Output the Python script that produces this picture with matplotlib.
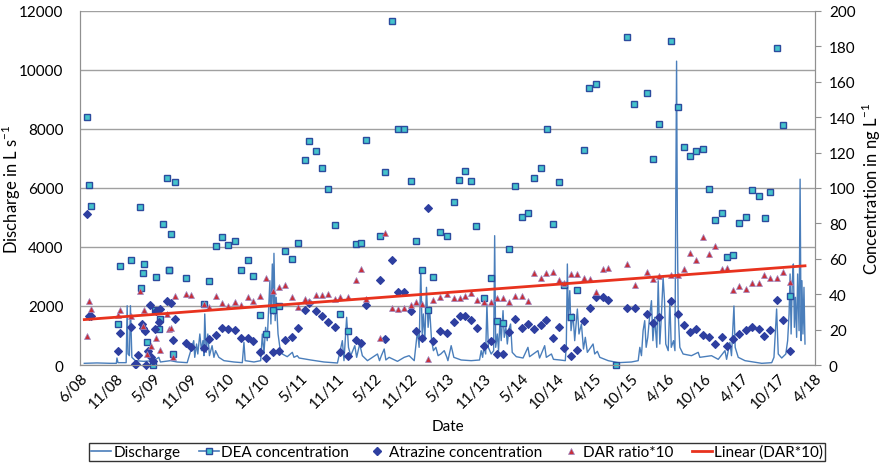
import numpy as np
import matplotlib
matplotlib.use("Agg")
import matplotlib.pyplot as plt
import matplotlib.dates as mdates
from matplotlib.lines import Line2D
from matplotlib.ticker import FuncFormatter

plt.rcParams['font.family'] = ['Lato', 'DejaVu Sans']
plt.rcParams['mathtext.fontset'] = 'custom'
plt.rcParams['mathtext.rm'] = 'Lato'

# all x values are days since 1 June 2008
START = np.datetime64('2008-06-01')

# discharge (L/s)
q_day = [21, 83, 149, 178, 181, 186, 226, 231, 235, 242, 247, 254, 271, 312, 361, 386, 394, 443, 476, 525,
         557, 562, 571, 577, 587, 595, 602, 607, 611, 618, 626, 634, 647, 656, 664, 680, 705, 754, 795, 803,
         809, 852, 885, 893, 901, 909, 917, 924, 930, 935, 942, 947, 950, 956, 961, 970, 979, 991, 1015, 1040,
         1048, 1064, 1073, 1130, 1195, 1261, 1285, 1293, 1306, 1315, 1326, 1346, 1355, 1370, 1383, 1408, 1457,
         1467, 1476, 1490, 1498, 1514, 1555, 1588, 1612, 1637, 1653, 1661, 1669, 1676, 1682, 1689, 1697, 1705,
         1712, 1722, 1731, 1743, 1754, 1767, 1784, 1797, 1802, 1818, 1831, 1867, 1916, 1957, 1965, 1972, 1978,
         1987, 1993, 2000, 2014, 2026, 2031, 2036, 2044, 2050, 2057, 2063, 2072, 2078, 2086, 2093, 2101, 2109,
         2117, 2137, 2170, 2194, 2202, 2243, 2251, 2276, 2284, 2309, 2319, 2350, 2377, 2382, 2387, 2392, 2399,
         2405, 2415, 2423, 2436, 2444, 2456, 2466, 2475, 2485, 2513, 2521, 2534, 2546, 2587, 2636, 2701, 2734,
         2742, 2750, 2758, 2766, 2773, 2781, 2791, 2799, 2806, 2815, 2825, 2832, 2840, 2848, 2856, 2863, 2869,
         2881, 2889, 2896, 2907, 2914, 2922, 2926, 2930, 2938, 2954, 2995, 3028, 3036, 3093, 3126, 3159, 3167,
         3183, 3191, 3203, 3209, 3224, 3257, 3339, 3388, 3399, 3412, 3420, 3437, 3457, 3466, 3473, 3478, 3483,
         3489, 3494, 3499, 3504, 3510, 3515, 3522, 3527, 3532, 3536, 3541, 3546, 3551]
q_val = [57, 70, 57, 57, 237, 79, 79, 2010, 373, 316, 2010, 260, 147, 124, 147, 260, 102, 147, 102, 79,
         825, 260, 712, 373, 1051, 486, 825, 316, 1729, 429, 1051, 316, 655, 260, 486, 260, 147, 102, 79, 768,
         147, 102, 147, 1051, 373, 1277, 825, 1955, 2858, 1390, 3424, 1729, 3786, 1503, 2294, 1051, 599, 373, 282, 429,
         260, 316, 237, 170, 102, 68, 825, 147, 1616, 599, 316, 655, 260, 712, 316, 147, 373,
         147, 316, 542, 170, 260, 124, 260, 316, 147, 1164, 599, 3254, 1051, 1729, 825, 2633, 1277,
         1955, 825, 486, 599, 316, 373, 486, 260, 147, 655, 260, 170, 147, 170, 486, 260, 599,
         373, 2068, 599, 373, 486, 4384, 599, 1051, 486, 1503, 825, 1842, 938, 1277, 712, 1220, 1390,
         429, 282, 237, 599, 282, 486, 237, 655, 260, 373, 192, 170, 147, 712, 3424, 1503, 2520,
         1164, 1729, 825, 1898, 1051, 1390, 542, 938, 429, 712, 373, 463, 260, 147, 79, 102, 147,
         599, 316, 1164, 1503, 599, 938, 1729, 2180, 825, 1616, 599, 2858, 712, 1729, 2972, 2180, 712,
         486, 2180, 599, 825, 486, 10300, 4550, 1729, 599, 373, 316, 429, 260, 316, 192, 486, 192,
         768, 316, 2000, 599, 260, 147, 57, 79, 260, 1898, 373, 237, 373, 825, 1729, 3085, 1051,
         2858, 3424, 1277, 2294, 938, 3085, 1164, 6300, 825, 2858, 1051, 2633, 712]

# DEA concentration (ng/L)
dea_day = [34, 44, 54, 188, 195, 252, 293, 301, 311, 314, 329, 358, 365, 373, 388, 391, 407, 427, 435, 438,
           448, 455, 463, 517, 607, 634, 665, 695, 727, 757, 787, 821, 849, 881, 911, 945, 976, 1002, 1036,
           1066, 1102, 1123, 1158, 1185, 1213, 1249, 1275, 1311, 1354, 1375, 1401, 1467, 1494, 1529, 1556,
           1586, 1620, 1647, 1677, 1705, 1731, 1761, 1798, 1830, 1857, 1887, 1914, 1942, 1978, 2012, 2042,
           2070, 2102, 2132, 2166, 2196, 2223, 2260, 2286, 2315, 2345, 2369, 2407, 2433, 2469, 2495, 2525,
           2624, 2680, 2714, 2776, 2806, 2834, 2896, 2927, 2959, 2987, 3018, 3049, 3079, 3108, 3143, 3170,
           3198, 3226, 3260, 3290, 3324, 3354, 3381, 3414, 3445, 3479]
dea_val = [140, 101.9, 90, 23, 56.1, 59.5, 89.4, 43.5, 52, 57.2, 12.8, 0, 31.2, 49.9, 20.3, 26, 79.5, 105.5, 53.5, 53.8,
           73.8, 6.2, 103.6, 49.2, 34.3, 47.6, 67.2, 72.5, 67.8, 70.2, 53.5, 59.3, 50.3, 28.4, 17.5, 31.2, 33.5, 64.4, 60.1,
           69.1, 115.8, 126.6, 120.7, 111.5, 99.3, 79.3, 28.8, 19.4, 68.4, 68.9, 127.1, 73, 109.2, 194.5, 133.3,
           133.1, 104, 69.9, 53.8, 31.2, 49.9, 75, 73, 91.9, 104.5, 109.8, 104, 78.4, 38, 49, 24.9,
           23.6, 65.7, 101.1, 83.8, 85.7, 105.6, 111.1, 133.1, 79.5, 103.2, 45.4, 27.3, 42.5, 121.5, 156.5, 158.6,
           0, 185.5, 147.6, 153.5, 116.6, 136.3, 182.9, 145.8, 123.3, 117.9, 120.9, 121.9, 99.4, 82.1, 85.7, 60.8,
           62.3, 80.4, 83.8, 99, 95.5, 83.2, 97.9, 179.1, 135.4, 38.8]

# atrazine concentration (ng/L)
atz_day = [34, 44, 54, 188, 195, 252, 268, 276, 286, 306, 311, 317, 325, 335, 345, 348, 358, 365, 371, 386,
           391, 427, 448, 455, 463, 517, 546, 607, 634, 665, 695, 727, 757, 787, 821, 849, 881, 911, 945, 976,
           1002, 1036, 1066, 1102, 1123, 1158, 1185, 1213, 1249, 1275, 1311, 1354, 1375, 1401, 1467, 1494, 1529,
           1556, 1586, 1620, 1647, 1677, 1705, 1731, 1761, 1798, 1830, 1859, 1885, 1914, 1944, 1978, 2012, 2042,
           2070, 2102, 2132, 2166, 2194, 2225, 2260, 2284, 2315, 2345, 2369, 2407, 2433, 2469, 2497, 2525, 2560,
           2588, 2680, 2716, 2778, 2806, 2835, 2895, 2927, 2959, 2987, 3018, 3051, 3079, 3110, 3144, 3170, 3198,
           3226, 3263, 3291, 3326, 3352, 3381, 3414, 3445, 3479]
atz_val = [85.1, 27.9, 27.9, 8.1, 18.1, 21.3, 0.6, 0.6, 5.5, 23.2, 21, 19, 0.2, 8.1, 34.1, 4.3, 2.4, 20.3, 30.7, 24.1,
           31.6, 36, 34.8, 14.1, 26, 12.2, 10, 9.8, 14.5, 17.1, 20.7, 20.3, 19.9, 15.4, 15.1, 13.7, 7.2, 3.8, 7.2, 7.7,
           14.3, 15.6, 20.7, 31.1, 35, 30.3, 27.9, 24.5, 21.3, 7.2, 4.9, 14.3, 12.6, 33.9, 47.8, 14.7, 59.5,
           41.4, 41.1, 30.5, 19.4, 15.4, 88.9, 13.4, 19, 17.9, 24.3, 27.5, 27.9, 25.4, 20.9, 10.5, 13.6, 6.2,
           6, 18.5, 25.8, 21.1, 23.2, 20.3, 22.6, 25.4, 15.1, 21.3, 9.8, 5.3, 8.3, 24.7, 32, 38.2, 38.2,
           36.5, 32.2, 32.2, 29, 23.9, 26.9, 36, 28.6, 22.4, 18.5, 20.2, 16.8, 15.8, 12, 15.8, 10.9, 14.7,
           17.7, 19.6, 21.3, 20.3, 16.2, 19.9, 36.5, 25.4, 8.1]

# DEA/atrazine ratio * 10
dar_day = [34, 44, 54, 188, 195, 252, 296, 309, 314, 329, 348, 371, 391, 427, 435, 448, 455, 463, 517, 546,
           607, 634, 665, 695, 727, 757, 787, 821, 849, 881, 911, 945, 976, 1002, 1036, 1066, 1102, 1123, 1158,
           1185, 1213, 1249, 1275, 1311, 1354, 1375, 1401, 1467, 1494, 1529, 1556, 1586, 1620, 1647, 1677, 1705,
           1731, 1761, 1798, 1830, 1859, 1885, 1914, 1944, 1978, 2012, 2042, 2070, 2102, 2132, 2166, 2194, 2225,
           2260, 2284, 2315, 2345, 2369, 2407, 2433, 2469, 2497, 2525, 2560, 2588, 2680, 2716, 2778, 2806, 2835,
           2895, 2927, 2959, 2987, 3018, 3051, 3079, 3110, 3144, 3170, 3198, 3226, 3263, 3291, 3326, 3352, 3381,
           3414, 3445, 3479]
dar_val = [16.2, 36.2, 31.6, 28.4, 30.9, 27.5, 41.6, 22.2, 31.1, 6, 10.9, 15.3, 8.5, 28.8, 20.3, 20.7, 4.3, 39, 40.1, 39.7,
           34.3, 32.6, 39.2, 35.2, 33.5, 35.4, 34.1, 38.6, 36.3, 39, 49.2, 41.8, 43.9, 45.2, 38.6, 32.6, 37.1, 36, 39.7,
           39.7, 40.1, 37.1, 38.6, 38.2, 48.2, 54.2, 37.3, 15.1, 74.7, 32.2, 31.6, 32.2, 33.9, 35.4, 34.5, 3.4,
           36.7, 38.6, 40.1, 37.7, 37.7, 38.8, 40.8, 36.9, 35.8, 35.8, 37.9, 37.7, 35.8, 39.2, 39.2, 36.3, 52.2,
           49.2, 52.2, 52.7, 48, 46.2, 51.6, 51.6, 49, 48.6, 41.4, 54, 54.8, 57.2, 45.4, 52.5, 48.6, 50.1,
           50.7, 50.7, 54.2, 63.4, 59.5, 72.3, 62.9, 67.4, 54.4, 55, 42.5, 44.8, 43.1, 46.2, 46.3, 51, 49,
           49, 52.7, 46.9]


def to_date(days):
    return START + np.asarray(days).astype('timedelta64[D]')


def tick_label(x, pos):
    d = mdates.num2date(x)
    return "{}/{}".format(d.month, d.strftime('%y'))


fig = plt.figure(figsize=(8.86, 4.64), dpi=100)
ax = fig.add_axes([80 / 886, 1 - 366 / 464, 735 / 886, 354 / 464])
ax2 = ax.twinx()

ax.plot(to_date(q_day), q_val, color='#4A7EBB', lw=1.0)

ax2.plot(to_date(dea_day), dea_val, ls='none', marker='s', ms=4.3,
         mfc='#45C3CC', mec='#2B4B9E', mew=1.0, clip_on=False)
ax2.plot(to_date(atz_day), atz_val, ls='none', marker='D', ms=4.3,
         mfc='#2E3FA0', mec='#2E3FA0', mew=0.8, clip_on=False)
ax2.plot(to_date(dar_day), dar_val, ls='none', marker='^', ms=5,
         mfc='#C8303A', mec='#9C88C4', mew=0.5)

# linear trend of DAR*10, like the spreadsheet trendline
k, b = np.polyfit(dar_day, dar_val, 1)
t_span = np.array([q_day[0], q_day[-1]])
ax2.plot(to_date(t_span), k * t_span + b, color='#E8321E', lw=2)

ax.set_xlim(to_date([0, 3600]))
ax.set_ylim(0, 12000)
ax2.set_ylim(0, 200)
ax.set_yticks(np.arange(0, 12001, 2000))
ax2.set_yticks(np.arange(0, 201, 20))
ax.set_xticks(mdates.date2num(to_date(np.arange(0, 3601, 180))))
ax.xaxis.set_major_formatter(FuncFormatter(tick_label))

ax.grid(axis='y', color='#A0A0A0', lw=1)
ax.set_axisbelow(True)
for a in (ax, ax2):
    a.spines['top'].set_visible(False)
    for s in ('left', 'right', 'bottom'):
        a.spines[s].set_color('#909090')
ax.tick_params(axis='y', length=0, pad=12, labelsize=11)
ax.tick_params(axis='x', length=0, pad=4, labelsize=11)
ax2.tick_params(axis='y', length=4, color='#909090', pad=6, labelsize=11)
for lab in ax.get_xticklabels():
    lab.set_rotation(45)
    lab.set_ha('right')
    lab.set_rotation_mode('anchor')

ax.set_ylabel('Discharge in L s$^{-1}$', fontsize=12)
ax.yaxis.set_label_coords(-0.078, 0.5)
ax2.set_ylabel('Concentration in ng L$^{-1}$', fontsize=12, labelpad=3)
ax.set_xlabel('Date', fontsize=11, labelpad=6)

handles = [
    Line2D([], [], color='#4A7EBB', lw=1.2),
    Line2D([], [], color='#4A7EBB', lw=1.2, marker='s', ms=4, mfc='#45C3CC', mec='#2B4B9E'),
    Line2D([], [], ls='none', marker='D', ms=4, mfc='#2E3FA0', mec='#2E3FA0'),
    Line2D([], [], ls='none', marker='^', ms=4, mfc='#C8303A', mec='#9C88C4', mew=0.5),
    Line2D([], [], color='#E8321E', lw=2),
]
labels = ['Discharge', 'DEA concentration', 'Atrazine concentration', 'DAR ratio*10', 'Linear (DAR*10)']
leg = fig.legend(handles, labels, loc='center', bbox_to_anchor=(457 / 886, 1 - 453 / 464), ncol=5,
                 frameon=True, fancybox=False, edgecolor='black', fontsize=11, borderpad=0.15,
                 handlelength=1.3, handletextpad=0.15, columnspacing=1.2, borderaxespad=0)
leg.get_frame().set_linewidth(1.0)

fig.savefig('out.png', dpi=100)
